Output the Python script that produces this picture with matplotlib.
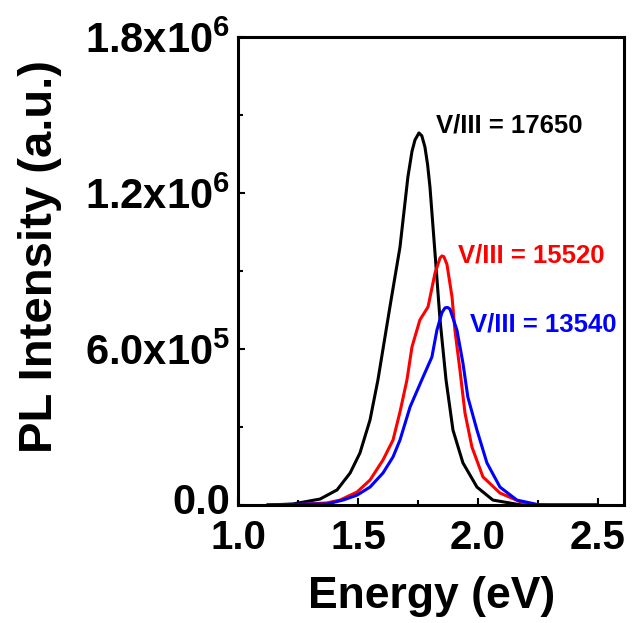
import numpy as np
import matplotlib.pyplot as plt
from matplotlib.ticker import FixedLocator, FixedFormatter
from matplotlib.transforms import ScaledTranslation

plt.rcParams['font.family'] = ['Liberation Sans', 'DejaVu Sans']
plt.rcParams['font.weight'] = 'bold'
plt.rcParams['mathtext.fontset'] = 'custom'
plt.rcParams['mathtext.rm'] = 'Liberation Sans:bold'
plt.rcParams['mathtext.bf'] = 'Liberation Sans:bold'

# PL spectra for three V/III ratios (energy in eV, intensity in a.u.)
e_17650 = [1.125, 1.229, 1.342, 1.4125, 1.467, 1.508, 1.55, 1.583, 1.633, 1.675,
           1.708, 1.725, 1.7375, 1.754, 1.766, 1.779, 1.79, 1.80, 1.821, 1.842,
           1.867, 1.896, 1.9375, 1.996, 2.0625, 2.1625, 2.30, 2.49]
i_17650 = [0, 4e3, 23e3, 58e3, 123e3, 200e3, 327e3, 481e3, 762e3, 992e3,
           1.262e6, 1.36e6, 1.404e6, 1.431e6, 1.42e6, 1.377e6, 1.31e6, 1.223e6, 969e3, 712e3,
           481e3, 288e3, 162e3, 69e3, 19e3, 3e3, 0, 0]

e_15520 = [1.125, 1.25, 1.371, 1.425, 1.496, 1.55, 1.604, 1.646, 1.675, 1.704,
           1.725, 1.758, 1.792, 1.821, 1.842, 1.85, 1.858, 1.871, 1.892, 1.904,
           1.925, 1.946, 1.975, 2.021, 2.092, 2.1875, 2.258, 2.49]
i_15520 = [0, 2e3, 8e3, 19e3, 50e3, 96e3, 173e3, 250e3, 358e3, 481e3,
           608e3, 712e3, 762e3, 892e3, 950e3, 958e3, 955e3, 925e3, 800e3, 673e3,
           519e3, 354e3, 223e3, 108e3, 46e3, 8e3, 0, 0]

e_13540 = [1.125, 1.30, 1.371, 1.4375, 1.496, 1.55, 1.604, 1.646, 1.675, 1.717,
           1.771, 1.808, 1.829, 1.85, 1.8625, 1.873, 1.883, 1.9125, 1.9375, 1.958,
           1.996, 2.0375, 2.092, 2.1625, 2.258, 2.49]
i_13540 = [0, 4e3, 4e3, 19e3, 38e3, 69e3, 123e3, 185e3, 250e3, 377e3,
           492e3, 569e3, 673e3, 740e3, 758e3, 760e3, 754e3, 673e3, 546e3, 415e3,
           288e3, 162e3, 69e3, 19e3, 0, 0]

series = [
    (e_17650, i_17650, 'black', 'V/III = 17650', (1.825, 1.4615e6)),
    (e_15520, i_15520, 'red', 'V/III = 15520', (1.917, 0.9615e6)),
    (e_13540, i_13540, 'blue', 'V/III = 13540', (1.967, 0.696e6)),
]

y_ticks = [0, 6e5, 1.2e6, 1.8e6]
y_labels = ['0.0', r'$\mathbf{6.0x10^{5}}$', r'$\mathbf{1.2x10^{6}}$', r'$\mathbf{1.8x10^{6}}$']
x_ticks = [1.0, 1.5, 2.0, 2.5]

fig = plt.figure(figsize=(6.35, 6.23), dpi=100)
ax = fig.add_axes([0.375, 0.1894, 0.608, 0.7512])

for e, inten, color, label, pos in series:
    ax.plot(e, inten, color=color, lw=2.2, solid_joinstyle='round')
    ax.text(pos[0], pos[1], label, color=color, fontsize=18.5, fontweight='bold',
            ha='left', va='center')

ax.set_xlim(1.0, 2.61)
ax.set_ylim(0, 1.8e6)

ax.xaxis.set_major_locator(FixedLocator(x_ticks))
ax.xaxis.set_minor_locator(FixedLocator([1.25, 1.75, 2.25]))
ax.yaxis.set_major_locator(FixedLocator(y_ticks))
ax.yaxis.set_major_formatter(FixedFormatter(y_labels))
ax.yaxis.set_minor_locator(FixedLocator([3e5, 9e5, 1.5e6]))
ax.set_xticklabels(['%.1f' % v for v in x_ticks])

ax.tick_params(which='major', direction='in', length=5, width=1.5)
ax.tick_params(which='minor', direction='in', length=3.5, width=1.5)
ax.tick_params(axis='x', labelsize=29, pad=10)
ax.tick_params(axis='y', labelsize=30, pad=6)
ax.tick_params(top=False, right=False)
for s in ax.spines.values():
    s.set_linewidth(2.2)

# nudge the zero label up so it clears the first energy label
zero_lbl = ax.get_yticklabels()[0]
zero_lbl.set_transform(zero_lbl.get_transform() + ScaledTranslation(0, 5 / 72, fig.dpi_scale_trans))

ax.set_xlabel('Energy (eV)', fontsize=32, fontweight='bold', labelpad=14)
ax.set_ylabel('PL Intensity (a.u.)', fontsize=34, fontweight='bold')
ax.yaxis.set_label_coords(-0.456, 0.53)

fig.savefig('out.png', dpi=100)
